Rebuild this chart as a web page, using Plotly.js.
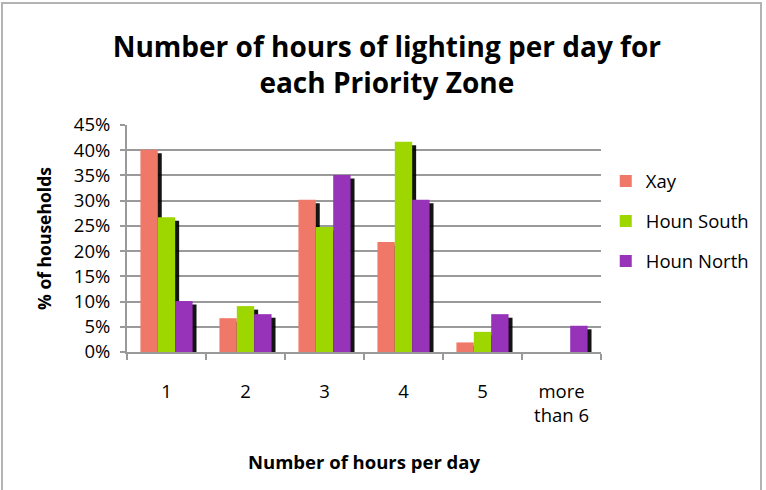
<!DOCTYPE html>
<html>
<head>
<meta charset="utf-8">
<script src="https://cdn.plot.ly/plotly-3.0.1.min.js"></script>
<style>
html,body{margin:0;padding:0;background:#fff;}
#wrap{position:relative;width:766px;height:490px;}
#chart{position:absolute;left:0;top:0;width:766px;height:490px;}
#frame{position:absolute;left:1px;top:2px;width:761px;height:500px;border:2px solid #b3b3b3;box-sizing:border-box;pointer-events:none;}
</style>
</head>
<body>
<div id="wrap"><div id="chart"></div><div id="frame"></div></div>
<script>
const categories = ['1', '2', '3', '4', '5', 'more<br>than 6'];
const xay = [40.1, 6.7, 30.2, 21.8, 1.9, 0];
const hounSouth = [26.7, 9.1, 24.8, 41.7, 4.0, 0];
const hounNorth = [10.1, 7.5, 35.1, 30.2, 7.5, 5.2];
const seriesNames = ['Xay', 'Houn South', 'Houn North'];
const seriesColors = ['#f07868', '#9ed600', '#9633b8'];

const series = [xay, hounSouth, hounNorth];
const barW = 0.22;
const offsets = [-0.33, -0.11, 0.11];
const traces = [];
series.forEach((vals, i) => {
  traces.push({
    type: 'bar', x: categories, y: vals, base: -0.7,
    width: barW, offset: offsets[i] + 0.05,
    marker: {color: 'rgba(0,0,0,0.92)', line: {width: 0}},
    showlegend: false, hoverinfo: 'skip'
  });
  traces.push({
    type: 'bar', x: categories, y: vals, name: seriesNames[i],
    width: barW, offset: offsets[i], legendgroup: 'g' + i,
    marker: {color: seriesColors[i], line: {width: 0}}
  });
});

const layout = {
  width: 766, height: 490,
  paper_bgcolor: '#fff', plot_bgcolor: '#fff',
  margin: {l: 127, r: 161, t: 125, b: 138},
  barmode: 'overlay',
  font: {family: 'Open Sans, sans-serif', color: '#000', size: 16},
  title: {
    text: '<b>Number of hours of lighting per day for<br>each Priority Zone</b>',
    font: {family: 'Open Sans, sans-serif', size: 28, color: '#000'},
    x: 0.505, xanchor: 'center', y: 0.884, yanchor: 'top'
  },
  xaxis: {
    type: 'category',
    tickson: 'boundaries', ticks: 'outside', ticklen: 6, tickwidth: 2, tickcolor: '#999',
    showline: true, linecolor: '#999', linewidth: 2,
    showgrid: false,
    tickfont: {size: 18.5}, ticklabelstandoff: 22,
    title: {text: '<b>Number of hours per day</b>', font: {size: 18.5}, standoff: 30}
  },
  yaxis: {
    range: [0, 45], dtick: 5, ticksuffix: '%',
    ticks: 'outside', ticklen: 5, tickwidth: 2, tickcolor: '#999',
    showline: true, linecolor: '#999', linewidth: 2,
    showgrid: true, gridcolor: '#9a9a9a', gridwidth: 2,
    zeroline: false,
    tickfont: {size: 18.5}, ticklabelstandoff: 6,
    title: {text: '<b>% of households</b>', font: {size: 17.5}, standoff: 18}
  },
  legend: {
    x: 1.01, xanchor: 'left', y: 0.835, yanchor: 'top',
    font: {size: 18.5}, tracegroupgap: 13, bgcolor: 'rgba(0,0,0,0)'
  },
  showlegend: true
};
Plotly.newPlot('chart', traces, layout, {displayModeBar: false, staticPlot: true});
</script>
</body>
</html>
